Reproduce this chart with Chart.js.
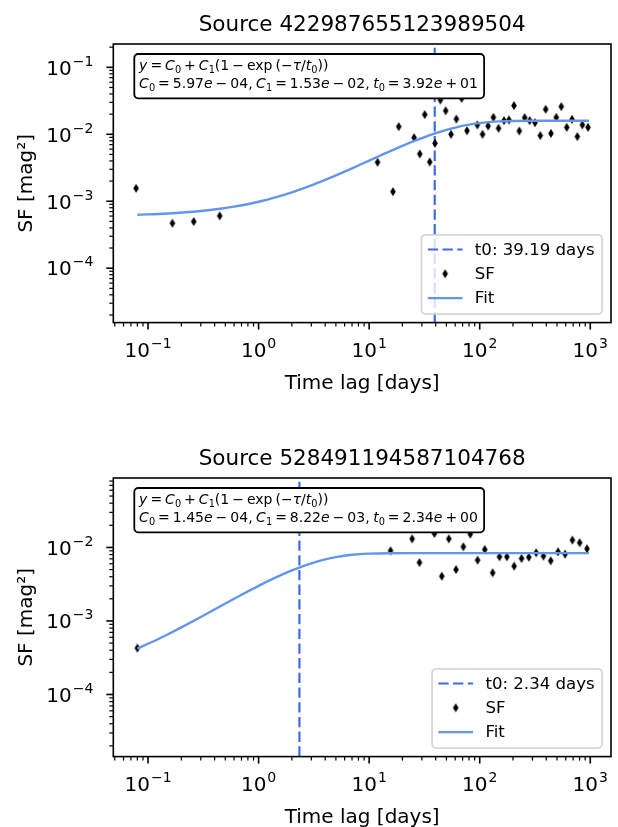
<!DOCTYPE html>
<html>
<head>
	<meta charset="utf-8"/>
	<title>Structure function fits</title>
	<script src="https://cdn.jsdelivr.net/npm/chart.js@4/dist/chart.umd.min.js"></script>
	<style>
		body { margin: 0; background: #fff; overflow: hidden; }
		canvas { display: block; }
	</style>
</head>
<body>
	<canvas id="sf_top" width="618" height="434"></canvas>
	<canvas id="sf_bottom" width="618" height="393"></canvas>
	<script>
		// --- source 1 ---
		const titleA = 'Source 422987655123989504';
		const lagA = [0.078, 0.166, 0.259, 0.445, 11.9, 16.4, 18.5, 25.5, 28.7, 31.8, 35.3, 39.4, 44.1, 49.2, 55.0, 61.5, 68.7, 76.7,
			95.2, 106, 119, 133, 148, 166, 184, 204, 228, 255, 283, 316, 353, 395, 441, 493, 547, 612, 684, 764, 848, 955];
		const sfA = [1.56e-3, 4.7e-4, 4.98e-4, 6.04e-4, 3.82e-3, 1.39e-3, 1.30e-2, 8.9e-3, 5.08e-3, 1.97e-2, 3.86e-3, 7.34e-3, 3.25e-2, 2.25e-2, 1.0e-2, 1.69e-2, 3.44e-2, 1.13e-2,
			1.38e-2, 1.0e-2, 1.33e-2, 1.79e-2, 1.23e-2, 1.60e-2, 1.64e-2, 2.68e-2, 1.12e-2, 1.77e-2, 1.60e-2, 1.49e-2, 9.55e-3, 2.36e-2, 1.03e-2, 1.79e-2, 2.59e-2, 1.27e-2, 1.67e-2, 9.23e-3, 1.38e-2, 1.27e-2];
		const fitLagA = [0.08, 0.15, 0.3, 0.45, 0.6, 1, 1.5, 2, 3, 4, 5, 7, 10, 12.5, 15, 20, 25, 30, 40, 50, 60, 80, 100, 120, 150, 200, 300, 500, 975];
		const fitA = [6.28e-4, 6.56e-4, 7.14e-4, 7.72e-4, 8.30e-4, 9.82e-4, 1.172e-3, 1.358e-3, 1.724e-3, 2.081e-3, 2.430e-3, 3.100e-3, 4.044e-3, 4.775e-3, 5.463e-3,
			6.711e-3, 7.811e-3, 8.779e-3, 1.038e-2, 1.162e-2, 1.259e-2, 1.391e-2, 1.470e-2, 1.518e-2, 1.556e-2, 1.580e-2, 1.589e-2, 1.590e-2, 1.590e-2];
		const t0A = 39.19;
		const paramsA = [['5.97', '−', '04'], ['1.53', '−', '02'], ['3.92', '+', '01']];   // C0, C1, t0
		const yRangeA = [1.54e-5, 0.223];

		// --- source 2 ---
		const titleB = 'Source 528491194587104768';
		const lagB = [0.08, 15.6, 24.5, 28.5, 38.9, 45.4, 52.5, 61.1, 71.1, 82.2, 95.7, 111, 131, 151, 176, 205, 239, 278, 324, 377, 439, 511, 592, 689, 802, 933];
		const sfB = [4.28e-4, 9.0e-3, 1.31e-2, 6.24e-3, 1.55e-2, 4.06e-3, 1.31e-2, 5.01e-3, 1.02e-2, 1.52e-2, 6.72e-3, 9.39e-3, 4.52e-3, 7.46e-3, 7.46e-3,
			5.56e-3, 7.08e-3, 7.38e-3, 8.46e-3, 7.62e-3, 6.58e-3, 8.73e-3, 8.11e-3, 1.26e-2, 1.16e-2, 9.59e-3];
		const fitLagB = [0.08, 0.12, 0.15, 0.2, 0.3, 0.5, 0.7, 1, 1.5, 2, 2.5, 3, 4, 5, 7, 10, 15, 30, 100, 975];
		const fitB = [4.21e-4, 5.56e-4, 6.55e-4, 8.18e-4, 1.134e-3, 1.727e-3, 2.270e-3, 3.003e-3, 4.035e-3, 4.868e-3, 5.541e-3, 6.084e-3, 6.877e-3, 7.395e-3,
			7.952e-3, 8.251e-3, 8.352e-3, 8.365e-3, 8.365e-3, 8.365e-3];
		const t0B = 2.34;
		const paramsB = [['1.45', '−', '04'], ['8.22', '−', '03'], ['2.34', '+', '00']];
		const yRangeB = [1.43e-5, 0.088];

		const xRange = [0.0485, 1540];

		const FONT = '"DejaVu Sans", sans-serif';
		const FIT_COLOR = '#6495ED';
		const T0_COLOR = '#4169E1';
		const TICK_PX = 20, SUP_PX = 14, LABEL_PX = 20, TITLE_PX = 21.5;

		function diamondMarker()
		{
			const c = document.createElement('canvas');
			c.width = 8; c.height = 11;
			const g = c.getContext('2d');
			g.fillStyle = '#000';
			g.beginPath();
			g.moveTo(4, 1); g.lineTo(6.8, 5.5); g.lineTo(4, 10); g.lineTo(1.2, 5.5);
			g.closePath();
			g.fill();
			return c;
		}
		const diamond = diamondMarker();

		function logTicks(min, max)
		{
			const out = [];
			for (let n = Math.floor(Math.log10(min)); n <= Math.ceil(Math.log10(max)); n++)
				for (let k = 1; k <= 9; k++)
				{
					const v = k * Math.pow(10, n);
					if (v >= min && v <= max) out.push({ v: v, major: k === 1, exp: n });
				}
			return out;
		}

		function drawPow(ctx, exp, x, y, align)
		{
			const sup = exp < 0 ? '−' + (-exp) : String(exp);
			ctx.font = TICK_PX + 'px ' + FONT;
			const wb = ctx.measureText('10').width;
			ctx.font = SUP_PX + 'px ' + FONT;
			const ws = ctx.measureText(sup).width;
			const w = wb + 1 + ws;
			const sx = align === 'center' ? x - w / 2 : x - w;
			ctx.textAlign = 'left';
			ctx.textBaseline = 'alphabetic';
			ctx.font = TICK_PX + 'px ' + FONT;
			ctx.fillText('10', sx, y);
			ctx.font = SUP_PX + 'px ' + FONT;
			ctx.fillText(sup, sx + wb + 1, y - 9);
		}

		// tiny mathtext: [text, style] with style r = roman, i = italic, s = subscript, o = binary operator
		function mathWidth(ctx, parts, size)
		{
			let w = 0;
			for (const p of parts) w += partWidth(ctx, p, size);
			return w;
		}
		function partFont(style, size)
		{
			if (style === 'i') return 'italic ' + size + 'px ' + FONT;
			if (style === 's') return (size * 0.7) + 'px ' + FONT;
			return size + 'px ' + FONT;
		}
		function partWidth(ctx, p, size)
		{
			if (p[1] === 'gap') return p[0];
			ctx.font = partFont(p[1], size);
			const w = ctx.measureText(p[0]).width;
			return p[1] === 'o' ? w + 6 : w;
		}
		function drawMath(ctx, parts, x, y, size)
		{
			ctx.textAlign = 'left';
			ctx.textBaseline = 'alphabetic';
			for (const p of parts)
			{
				const w = partWidth(ctx, p, size);
				if (p[1] !== 'gap')
				{
					ctx.font = partFont(p[1], size);
					const dx = p[1] === 'o' ? 3 : 0;
					const dy = p[1] === 's' ? 3 : 0;
					ctx.fillText(p[0], x + dx, y + dy);
				}
				x += w;
			}
		}

		function fitLines(params)
		{
			const l1 = [['y', 'i'], ['=', 'o'], ['C', 'i'], ['0', 's'], ['+', 'o'], ['C', 'i'], ['1', 's'], ['(1', 'r'], ['−', 'o'],
				['exp', 'r'], [3, 'gap'], ['(−', 'r'], ['τ', 'i'], ['/', 'r'], ['t', 'i'], ['0', 's'], ['))', 'r']];
			const l2 = [];
			const names = [['C', '0'], ['C', '1'], ['t', '0']];
			names.forEach((nm, i) =>
			{
				const p = params[i];
				l2.push([nm[0], 'i'], [nm[1], 's'], ['=', 'o'], [p[0], 'r'], ['e', 'i'], [p[1], 'o'], [p[2] + (i < 2 ? ',' : ''), 'r']);
				if (i < 2) l2.push([3.5, 'gap']);
			});
			return [l1, l2];
		}

		function roundBox(ctx, x, y, w, h, r)
		{
			ctx.beginPath();
			ctx.roundRect(x, y, w, h, r);
		}

		const mplPlugin =
		{
			id: 'mpl',
			afterDatasetsDraw(chart, args, o)
			{
				const ctx = chart.ctx;
				const a = chart.chartArea;
				const xs = chart.scales.x, ys = chart.scales.y;
				ctx.save();
				ctx.fillStyle = '#000';

				// parameter box
				const lines = fitLines(o.params);
				const mSize = 14;
				const tw = Math.max(mathWidth(ctx, lines[0], mSize), mathWidth(ctx, lines[1], mSize));
				const bx = a.left + 21, by = a.top + 10;
				roundBox(ctx, bx, by, tw + 11, 44.3, 4);
				ctx.fillStyle = '#fff';
				ctx.fill();
				ctx.lineWidth = 1.8;
				ctx.strokeStyle = '#000';
				ctx.stroke();
				ctx.fillStyle = '#000';
				drawMath(ctx, lines[0], bx + 4.8, by + 16, mSize);
				drawMath(ctx, lines[1], bx + 4.8, by + 34.3, mSize);

				// legend
				const lSize = 16.6;
				ctx.font = lSize + 'px ' + FONT;
				const labels = [o.t0Label, 'SF', 'Fit'];
				const lw = Math.max(...labels.map(s => ctx.measureText(s).width));
				const legW = 6.3 + 34.7 + 12.3 + lw + 7.3, legH = 79.3;
				const lx = a.right - 9 - legW, ly = a.bottom - 8.5 - legH;
				roundBox(ctx, lx, ly, legW, legH, 4);
				ctx.fillStyle = 'rgba(255,255,255,0.8)';
				ctx.fill();
				ctx.lineWidth = 1.8;
				ctx.strokeStyle = 'rgba(204,204,204,0.8)';
				ctx.stroke();
				const hx0 = lx + 6.3, hx1 = hx0 + 34.7;
				labels.forEach((s, i) =>
				{
					const cy = ly + 14.7 + i * 24.3;
					if (i === 0)
					{
						ctx.strokeStyle = T0_COLOR; ctx.lineWidth = 2.2; ctx.setLineDash([10.3, 4.4]);
						ctx.beginPath(); ctx.moveTo(hx0, cy); ctx.lineTo(hx1, cy); ctx.stroke();
						ctx.setLineDash([]);
					}
					else if (i === 1)
					{
						ctx.drawImage(diamond, (hx0 + hx1) / 2 - diamond.width / 2, cy - diamond.height / 2);
					}
					else
					{
						ctx.strokeStyle = FIT_COLOR; ctx.lineWidth = 2.4;
						ctx.beginPath(); ctx.moveTo(hx0, cy); ctx.lineTo(hx1, cy); ctx.stroke();
					}
					ctx.fillStyle = '#000';
					ctx.font = lSize + 'px ' + FONT;
					ctx.textAlign = 'left';
					ctx.textBaseline = 'middle';
					ctx.fillText(s, hx1 + 12.3, cy + 1);
				});

				// frame
				ctx.strokeStyle = '#000';
				ctx.lineWidth = 1.6;
				ctx.strokeRect(a.left, a.top, a.right - a.left, a.bottom - a.top);

				// x ticks
				ctx.fillStyle = '#000';
				for (const t of logTicks(xs.min, xs.max))
				{
					const px = xs.getPixelForValue(t.v);
					ctx.lineWidth = t.major ? 1.6 : 1.2;
					ctx.beginPath(); ctx.moveTo(px, a.bottom); ctx.lineTo(px, a.bottom + (t.major ? 7 : 4)); ctx.stroke();
					if (t.major) drawPow(ctx, t.exp, px, a.bottom + 34, 'center');
				}
				// y ticks
				for (const t of logTicks(ys.min, ys.max))
				{
					const py = ys.getPixelForValue(t.v);
					ctx.lineWidth = t.major ? 1.6 : 1.2;
					ctx.beginPath(); ctx.moveTo(a.left, py); ctx.lineTo(a.left - (t.major ? 7 : 4), py); ctx.stroke();
					if (t.major) drawPow(ctx, t.exp, a.left - 20, py + 7.3, 'right');
				}

				// axis labels and title
				const cx = (a.left + a.right) / 2;
				ctx.textAlign = 'center';
				ctx.textBaseline = 'alphabetic';
				ctx.font = LABEL_PX + 'px ' + FONT;
				ctx.fillText('Time lag [days]', cx, a.bottom + 66.5);
				ctx.save();
				ctx.translate(32, (a.top + a.bottom) / 2);
				ctx.rotate(-Math.PI / 2);
				ctx.fillText('SF [mag²]', 0, 0);
				ctx.restore();
				ctx.font = TITLE_PX + 'px ' + FONT;
				ctx.fillText(o.title, cx, a.top - 13.5);

				ctx.restore();
			}
		};

		function makeChart(id, title, lag, sf, fitLag, fit, t0, params, yRange)
		{
			const canvas = document.getElementById(id);
			const ctx = canvas.getContext('2d');
			const toXY = (xv, yv) => xv.map((v, i) => ({ x: v, y: yv[i] }));

			const config =
			{
				type: 'scatter',
				data:
				{
					datasets:
					[
						{
							label: 't0: ' + t0.toFixed(2) + ' days',
							data: [{ x: t0, y: yRange[0] }, { x: t0, y: yRange[1] }],
							showLine: true,
							borderColor: T0_COLOR,
							borderWidth: 2.2,
							borderDash: [10.3, 4.4],
							pointRadius: 0,
							order: 2
						},
						{
							label: 'SF',
							data: toXY(lag, sf),
							pointStyle: diamond,
							pointRadius: 4,
							order: 1
						},
						{
							label: 'Fit',
							data: toXY(fitLag, fit),
							showLine: true,
							borderColor: FIT_COLOR,
							borderWidth: 2.4,
							pointRadius: 0,
							cubicInterpolationMode: 'monotone',
							order: 0
						}
					]
				},
				options:
				{
					responsive: false,
					animation: false,
					events: [],
					layout: { padding: { left: 113.3, right: 7, top: 44, bottom: canvas.height - 322.6 } },
					scales:
					{
						x: { type: 'logarithmic', min: xRange[0], max: xRange[1], display: false },
						y: { type: 'logarithmic', min: yRange[0], max: yRange[1], display: false }
					},
					plugins:
					{
						legend: { display: false },
						tooltip: { enabled: false },
						mpl: { title: title, params: params, t0Label: 't0: ' + t0.toFixed(2) + ' days' }
					}
				},
				plugins: [mplPlugin]
			};
			return new Chart(ctx, config);
		}

		makeChart('sf_top', titleA, lagA, sfA, fitLagA, fitA, t0A, paramsA, yRangeA);
		makeChart('sf_bottom', titleB, lagB, sfB, fitLagB, fitB, t0B, paramsB, yRangeB);
	</script>
</body>
</html>
